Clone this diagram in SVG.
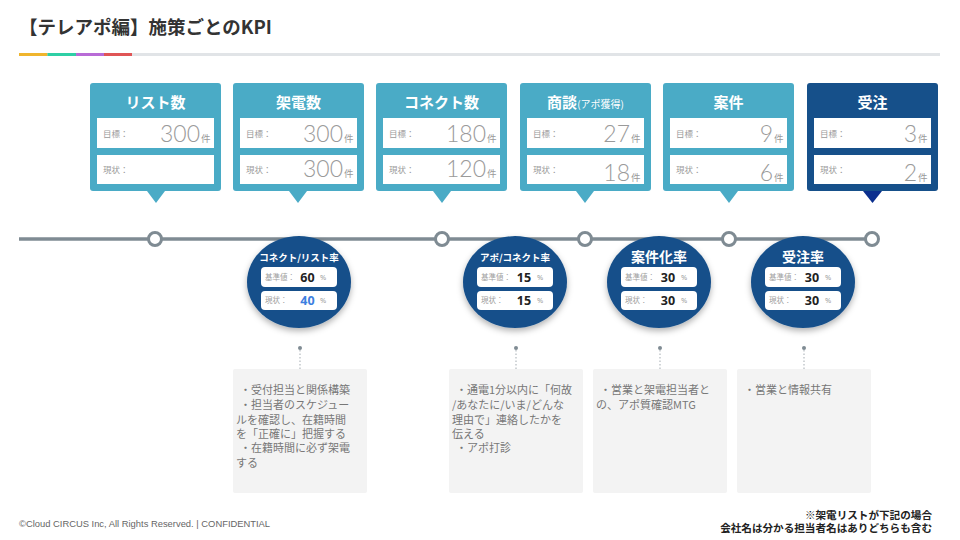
<svg xmlns="http://www.w3.org/2000/svg" width="960" height="540" viewBox="0 0 960 540">
  <defs>
    <style>
      .title { font-family: "Noto Sans CJK JP", sans-serif; font-size: 18.5px; font-weight: 700; fill: #333; }
      .card-light { fill: #4aabc6; }
      .card-dark { fill: #16508a; }
      .card-title { font-family: "Noto Sans CJK JP", sans-serif; font-size: 15px; font-weight: 700; fill: #fff; text-anchor: middle; }
      .card-sub { font-size: 10px; font-weight: 400; }
      .field { fill: #fff; }
      .field-label { font-family: "Noto Sans CJK JP", sans-serif; font-size: 8.5px; fill: #9a9a9a; }
      .num { font-family: "Lato", "Noto Sans", sans-serif; font-size: 23px; font-weight: 300; fill: #9a9a9a; text-anchor: end; }
      .unit { font-family: "Noto Sans CJK JP", sans-serif; font-size: 9.5px; fill: #9a9a9a; }
      .track { stroke: #7f8b93; stroke-width: 3.5; fill: none; }
      .stop { fill: #fff; stroke: #7f8b93; stroke-width: 3; }
      .rate { fill: #16508a; }
      .rate-title { font-family: "Noto Sans CJK JP", sans-serif; font-weight: 700; fill: #fff; text-anchor: middle; }
      .pill { fill: #fff; }
      .pill-label { font-family: "Noto Sans CJK JP", sans-serif; font-size: 7.5px; fill: #a0a0a0; }
      .pill-val { font-family: "Open Sans", "Noto Sans", sans-serif; font-size: 12.5px; font-weight: 700; fill: #222; text-anchor: middle; }
      .pill-pct { font-family: "Noto Sans", sans-serif; font-size: 7.5px; fill: #a0a0a0; }
      .lead { stroke: #a3abb1; stroke-width: 1; stroke-dasharray: 1.5 2; }
      .lead-dot { fill: #7f8b93; }
      .note { fill: #f3f3f3; }
      .note-text { font-family: "Noto Sans CJK JP", sans-serif; font-size: 11px; fill: #777; }
      .foot { font-family: "Liberation Sans", "Noto Sans", sans-serif; font-size: 9.4px; fill: #666; }
      .foot-note { font-family: "Noto Sans CJK JP", sans-serif; font-size: 10.6px; font-weight: 700; fill: #222; text-anchor: end; }
    </style>
    <filter id="shadow" x="-30%" y="-30%" width="160%" height="170%">
      <feDropShadow dx="0" dy="3" stdDeviation="3" flood-color="#000" flood-opacity="0.3"/>
    </filter>
  </defs>

  <rect width="960" height="540" fill="#fff"/>

  <!-- heading -->
  <g id="heading">
    <text class="title" x="19" y="34">【テレアポ編】施策ごとのKPI</text>
    <rect x="19" y="53" width="921" height="3" fill="#e1e4e7"/>
    <rect x="19" y="53" width="28.5" height="3" fill="#f0b52d"/>
    <rect x="47.5" y="53" width="28.5" height="3" fill="#2ecfa5"/>
    <rect x="76" y="53" width="28" height="3" fill="#b86bd6"/>
    <rect x="104" y="53" width="28" height="3" fill="#e05556"/>
  </g>

  <!-- timeline and connectors -->
  <g id="connectors">
    <line class="track" x1="19" y1="239" x2="872" y2="239"/>
    <circle class="stop" cx="155" cy="239" r="6.5"/>
    <circle class="stop" cx="442" cy="239" r="6.5"/>
    <circle class="stop" cx="585" cy="239" r="6.5"/>
    <circle class="stop" cx="729" cy="239" r="6.5"/>
    <circle class="stop" cx="872" cy="239" r="6.5"/>

    <circle class="lead-dot" cx="300" cy="348" r="2"/>
    <line class="lead" x1="300" y1="350" x2="300" y2="369"/>
    <circle class="lead-dot" cx="516" cy="348" r="2"/>
    <line class="lead" x1="516" y1="350" x2="516" y2="369"/>
    <circle class="lead-dot" cx="660" cy="348" r="2"/>
    <line class="lead" x1="660" y1="350" x2="660" y2="369"/>
    <circle class="lead-dot" cx="804" cy="348" r="2"/>
    <line class="lead" x1="804" y1="350" x2="804" y2="369"/>
  </g>

  <!-- KPI cards -->
  <g id="card-list">
    <rect class="card-light" x="90" y="83" width="131" height="108" rx="3"/>
    <polygon class="card-light" points="147,191 165,191 156,203"/>
    <text class="card-title" x="155.5" y="108">リスト数</text>
    <rect class="field" x="97" y="118" width="117" height="30"/>
    <rect class="field" x="97" y="155" width="117" height="29"/>
    <text class="field-label" x="103" y="137">目標：</text>
    <text class="field-label" x="103" y="173">現状：</text>
    <text class="num" x="200" y="142">300</text><text class="unit" x="201" y="142">件</text>
  </g>

  <g id="card-calls">
    <rect class="card-light" x="233" y="83" width="131" height="108" rx="3"/>
    <polygon class="card-light" points="289,191 307,191 298,203"/>
    <text class="card-title" x="298.5" y="108">架電数</text>
    <rect class="field" x="240" y="118" width="117" height="30"/>
    <rect class="field" x="240" y="155" width="117" height="29"/>
    <text class="field-label" x="246" y="137">目標：</text>
    <text class="field-label" x="246" y="173">現状：</text>
    <text class="num" x="343" y="142">300</text><text class="unit" x="344" y="142">件</text>
    <text class="num" x="343" y="177">300</text><text class="unit" x="344" y="177">件</text>
  </g>

  <g id="card-connect">
    <rect class="card-light" x="376" y="83" width="131" height="108" rx="3"/>
    <polygon class="card-light" points="433,191 451,191 442,203"/>
    <text class="card-title" x="441.5" y="108">コネクト数</text>
    <rect class="field" x="383" y="118" width="117" height="30"/>
    <rect class="field" x="383" y="155" width="117" height="29"/>
    <text class="field-label" x="389" y="137">目標：</text>
    <text class="field-label" x="389" y="173">現状：</text>
    <text class="num" x="486" y="142">180</text><text class="unit" x="487" y="142">件</text>
    <text class="num" x="486" y="177">120</text><text class="unit" x="487" y="177">件</text>
  </g>

  <g id="card-meeting">
    <rect class="card-light" x="520" y="83" width="131" height="108" rx="3"/>
    <polygon class="card-light" points="576,191 594,191 585,203"/>
    <text class="card-title" x="585.5" y="108">商談<tspan class="card-sub">(アポ獲得)</tspan></text>
    <rect class="field" x="527" y="118" width="117" height="30"/>
    <rect class="field" x="527" y="155" width="117" height="29"/>
    <text class="field-label" x="533" y="137">目標：</text>
    <text class="field-label" x="533" y="173">現状：</text>
    <text class="num" x="630" y="142">27</text><text class="unit" x="631" y="142">件</text>
    <text class="num" x="630" y="181">18</text><text class="unit" x="631" y="181">件</text>
  </g>

  <g id="card-deal">
    <rect class="card-light" x="663" y="83" width="131" height="108" rx="3"/>
    <polygon class="card-light" points="720,191 738,191 729,203"/>
    <text class="card-title" x="728.5" y="108">案件</text>
    <rect class="field" x="670" y="118" width="117" height="30"/>
    <rect class="field" x="670" y="155" width="117" height="29"/>
    <text class="field-label" x="676" y="137">目標：</text>
    <text class="field-label" x="676" y="173">現状：</text>
    <text class="num" x="773" y="142">9</text><text class="unit" x="774" y="142">件</text>
    <text class="num" x="773" y="181">6</text><text class="unit" x="774" y="181">件</text>
  </g>

  <g id="card-order">
    <rect class="card-dark" x="807" y="83" width="131" height="108" rx="3"/>
    <polygon fill="#0b2f8e" points="863,191 882,191 872.5,203"/>
    <text class="card-title" x="872.5" y="108">受注</text>
    <rect class="field" x="814" y="118" width="117" height="30"/>
    <rect class="field" x="814" y="155" width="117" height="29"/>
    <text class="field-label" x="820" y="137">目標：</text>
    <text class="field-label" x="820" y="173">現状：</text>
    <text class="num" x="917" y="142">3</text><text class="unit" x="918" y="142">件</text>
    <text class="num" x="917" y="181">2</text><text class="unit" x="918" y="181">件</text>
  </g>

  <!-- conversion rates -->
  <g id="rate-connect-list">
    <ellipse class="rate" cx="299" cy="282" rx="52" ry="46" filter="url(#shadow)"/>
    <text class="rate-title" x="299" y="260.5" font-size="9.5">コネクト/リスト率</text>
    <rect class="pill" x="261" y="267" width="76" height="20" rx="4"/>
    <rect class="pill" x="261" y="291" width="76" height="19" rx="4"/>
    <text class="pill-label" x="265" y="280">基準値：</text>
    <text class="pill-label" x="265" y="303">現状：</text>
    <text class="pill-val" x="307.5" y="281.5">60</text>
    <text class="pill-val" x="307.5" y="305" style="fill:#3d80e0">40</text>
    <text class="pill-pct" x="320" y="280">%</text>
    <text class="pill-pct" x="320" y="303">%</text>
  </g>

  <g id="rate-appo-connect">
    <ellipse class="rate" cx="515" cy="282" rx="52" ry="46" filter="url(#shadow)"/>
    <text class="rate-title" x="515" y="260.5" font-size="9.5">アポ/コネクト率</text>
    <rect class="pill" x="477" y="267" width="76" height="20" rx="4"/>
    <rect class="pill" x="477" y="291" width="76" height="19" rx="4"/>
    <text class="pill-label" x="481" y="280">基準値：</text>
    <text class="pill-label" x="481" y="303">現状：</text>
    <text class="pill-val" x="524" y="281.5">15</text>
    <text class="pill-val" x="524" y="305">15</text>
    <text class="pill-pct" x="537" y="280">%</text>
    <text class="pill-pct" x="537" y="303">%</text>
  </g>

  <g id="rate-deal">
    <ellipse class="rate" cx="659" cy="282" rx="52" ry="46" filter="url(#shadow)"/>
    <text class="rate-title" x="659" y="262" font-size="14">案件化率</text>
    <rect class="pill" x="621" y="267" width="76" height="20" rx="4"/>
    <rect class="pill" x="621" y="291" width="76" height="19" rx="4"/>
    <text class="pill-label" x="625" y="280">基準値：</text>
    <text class="pill-label" x="625" y="303">現状：</text>
    <text class="pill-val" x="668" y="281.5">30</text>
    <text class="pill-val" x="668" y="305">30</text>
    <text class="pill-pct" x="681" y="280">%</text>
    <text class="pill-pct" x="681" y="303">%</text>
  </g>

  <g id="rate-order">
    <ellipse class="rate" cx="803" cy="282" rx="52" ry="46" filter="url(#shadow)"/>
    <text class="rate-title" x="803" y="262" font-size="14">受注率</text>
    <rect class="pill" x="765" y="267" width="76" height="20" rx="4"/>
    <rect class="pill" x="765" y="291" width="76" height="19" rx="4"/>
    <text class="pill-label" x="769" y="280">基準値：</text>
    <text class="pill-label" x="769" y="303">現状：</text>
    <text class="pill-val" x="812" y="281.5">30</text>
    <text class="pill-val" x="812" y="305">30</text>
    <text class="pill-pct" x="825" y="280">%</text>
    <text class="pill-pct" x="825" y="303">%</text>
  </g>

  <!-- action notes -->
  <g id="note-connect-list">
    <rect class="note" x="233" y="369" width="134" height="124" rx="2"/>
    <text class="note-text">
      <tspan x="240" y="394">・受付担当と関係構築</tspan>
      <tspan x="240" y="409">・担当者のスケジュー</tspan>
      <tspan x="236" y="424">ルを確認し、在籍時間</tspan>
      <tspan x="236" y="438">を「正確に」把握する</tspan>
      <tspan x="240" y="452">・在籍時間に必ず架電</tspan>
      <tspan x="236" y="467">する</tspan>
    </text>
  </g>

  <g id="note-appo-connect">
    <rect class="note" x="449" y="369" width="134" height="124" rx="2"/>
    <text class="note-text">
      <tspan x="456" y="394">・通電1分以内に「何故</tspan>
      <tspan x="452" y="409">/あなたに/いま/どんな</tspan>
      <tspan x="452" y="424">理由で」連絡したかを</tspan>
      <tspan x="452" y="438">伝える</tspan>
      <tspan x="456" y="452">・アポ打診</tspan>
    </text>
  </g>

  <g id="note-deal">
    <rect class="note" x="593" y="369" width="134" height="124" rx="2"/>
    <text class="note-text">
      <tspan x="600" y="394">・営業と架電担当者と</tspan>
      <tspan x="596" y="409">の、アポ質確認MTG</tspan>
    </text>
  </g>

  <g id="note-order">
    <rect class="note" x="737" y="369" width="134" height="124" rx="2"/>
    <text class="note-text">
      <tspan x="744" y="394">・営業と情報共有</tspan>
    </text>
  </g>

  <!-- footer -->
  <g id="footer">
    <text class="foot" x="19" y="527">©Cloud CIRCUS Inc, All Rights Reserved. | CONFIDENTIAL</text>
    <text class="foot-note" x="932" y="519">※架電リストが下記の場合</text>
    <text class="foot-note" x="932" y="532">会社名は分かる担当者名はありどちらも含む</text>
  </g>
</svg>
